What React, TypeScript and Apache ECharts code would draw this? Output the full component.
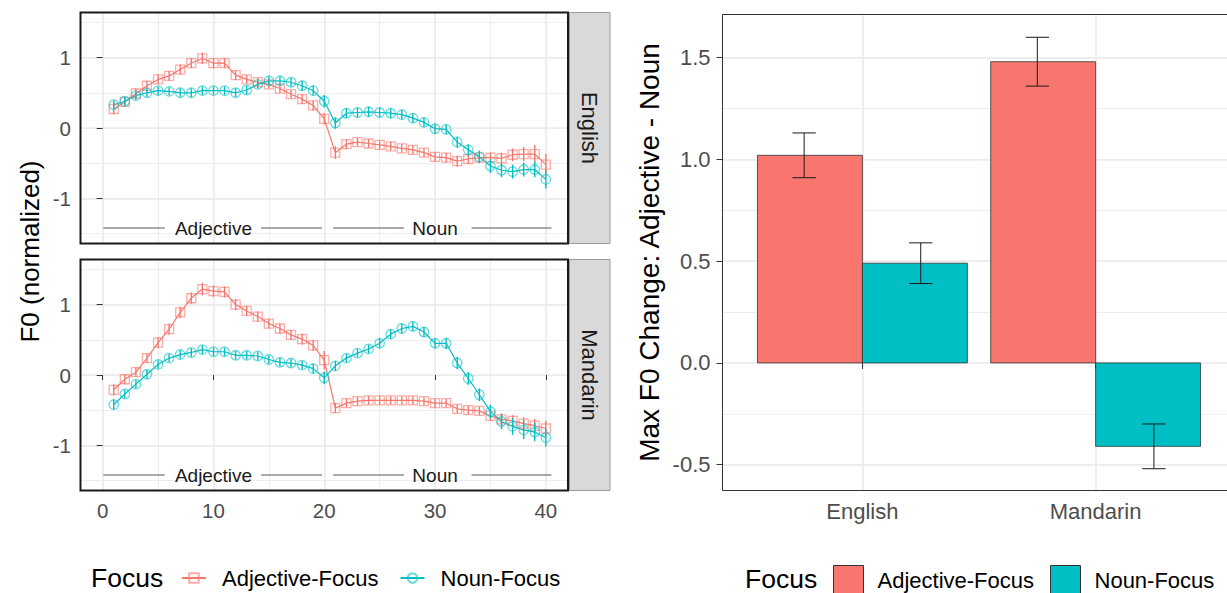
import React, { useEffect, useRef } from 'react';
import * as echarts from 'echarts';

// ---------------- data ----------------
const timePoints = [1, 2, 3, 4, 5, 6, 7, 8, 9, 10, 11, 12, 13, 14, 15, 16, 17, 18, 19, 20,
  21, 22, 23, 24, 25, 26, 27, 28, 29, 30, 31, 32, 33, 34, 35, 36, 37, 38, 39, 40];

const englishAdj = [0.27, 0.37, 0.49, 0.60, 0.69, 0.74, 0.83, 0.92, 0.99, 0.92, 0.92, 0.75, 0.69, 0.65, 0.62, 0.56, 0.48, 0.41, 0.32, 0.13,
  -0.35, -0.23, -0.20, -0.22, -0.24, -0.26, -0.29, -0.31, -0.35, -0.41, -0.42, -0.47, -0.44, -0.42, -0.42, -0.43, -0.38, -0.37, -0.37, -0.52];
const englishAdjSe = [0.08, 0.07, 0.07, 0.07, 0.07, 0.07, 0.07, 0.07, 0.08, 0.07, 0.07, 0.07, 0.06, 0.06, 0.06, 0.06, 0.06, 0.07, 0.07, 0.08,
  0.09, 0.07, 0.06, 0.06, 0.06, 0.06, 0.06, 0.06, 0.06, 0.07, 0.07, 0.08, 0.07, 0.07, 0.07, 0.08, 0.09, 0.10, 0.13, 0.15];
const englishNoun = [0.33, 0.38, 0.46, 0.50, 0.53, 0.52, 0.50, 0.50, 0.53, 0.53, 0.53, 0.50, 0.54, 0.62, 0.67, 0.67, 0.65, 0.60, 0.53, 0.38,
  0.07, 0.21, 0.22, 0.23, 0.22, 0.21, 0.19, 0.14, 0.08, -0.01, -0.02, -0.20, -0.31, -0.41, -0.54, -0.60, -0.62, -0.59, -0.59, -0.73];
const englishNounSe = [0.06, 0.06, 0.06, 0.06, 0.06, 0.06, 0.06, 0.06, 0.06, 0.06, 0.06, 0.06, 0.06, 0.06, 0.06, 0.06, 0.06, 0.07, 0.07, 0.09,
  0.08, 0.07, 0.07, 0.07, 0.07, 0.07, 0.07, 0.07, 0.07, 0.07, 0.07, 0.08, 0.08, 0.09, 0.10, 0.10, 0.10, 0.10, 0.11, 0.13];
const mandarinAdj = [-0.21, -0.06, 0.04, 0.24, 0.46, 0.65, 0.89, 1.09, 1.22, 1.19, 1.18, 1.00, 0.91, 0.83, 0.73, 0.66, 0.57, 0.51, 0.42, 0.21,
  -0.47, -0.40, -0.37, -0.36, -0.36, -0.36, -0.36, -0.36, -0.37, -0.40, -0.40, -0.48, -0.50, -0.51, -0.58, -0.63, -0.65, -0.69, -0.72, -0.76];
const mandarinAdjSe = [0.08, 0.07, 0.07, 0.07, 0.08, 0.08, 0.08, 0.08, 0.09, 0.08, 0.08, 0.08, 0.07, 0.07, 0.07, 0.07, 0.07, 0.08, 0.08, 0.13,
  0.07, 0.06, 0.06, 0.06, 0.06, 0.06, 0.06, 0.06, 0.06, 0.06, 0.06, 0.06, 0.06, 0.06, 0.07, 0.08, 0.08, 0.09, 0.10, 0.11];
const mandarinNoun = [-0.42, -0.27, -0.13, 0.01, 0.15, 0.24, 0.29, 0.32, 0.36, 0.33, 0.33, 0.28, 0.28, 0.27, 0.22, 0.18, 0.17, 0.14, 0.09, -0.04,
  0.13, 0.24, 0.31, 0.37, 0.45, 0.58, 0.66, 0.69, 0.61, 0.45, 0.45, 0.17, -0.05, -0.28, -0.52, -0.66, -0.73, -0.78, -0.81, -0.89];
const mandarinNounSe = [0.07, 0.06, 0.06, 0.06, 0.06, 0.06, 0.06, 0.06, 0.06, 0.06, 0.06, 0.06, 0.06, 0.06, 0.06, 0.06, 0.06, 0.06, 0.07, 0.09,
  0.07, 0.06, 0.06, 0.06, 0.07, 0.07, 0.07, 0.07, 0.07, 0.07, 0.08, 0.09, 0.09, 0.09, 0.10, 0.11, 0.12, 0.13, 0.13, 0.13];

const focusNames = ['Adjective-Focus', 'Noun-Focus'];
const languages = ['English', 'Mandarin'];
const lineXTicks = [0, 10, 20, 30, 40];
const lineYTicks = [-1, 0, 1];

const annotationY = -1.42;
const annotationSegments = [[0.06, 5.6], [14.3, 19.8], [20.8, 27.2], [33.3, 40.5]];
const annotationLabels = ['Adjective', 'Noun'];
const annotationLabelX = [10, 30];

const barAdj = [1.02, 1.48];
const barAdjLow = [0.91, 1.36];
const barAdjHigh = [1.13, 1.6];
const barNoun = [0.49, -0.41];
const barNounLow = [0.39, -0.52];
const barNounHigh = [0.59, -0.3];
const barYTicks = [-0.5, 0, 0.5, 1, 1.5];

// ---------------- style ----------------
const FONT = '"Liberation Sans", Arial, Helvetica, sans-serif';
const RED = '#F8766D';
const TEAL = '#00BFC4';
const RED_PT = 'rgba(248,118,109,0.6)';
const TEAL_PT = 'rgba(0,191,196,0.6)';
const GRID_COLOR = '#EBEBEB';

const PANEL_LEFT = 80.5;
const PANEL_W = 487.5;
const PANEL_H = 231;
const PANEL_TOPS = [12.5, 259.5];
const BAR_LEFT = 722.5;
const BAR_TOP = 14.5;
const BAR_UNIT = 233.2; // pixels per category step
const BAR_W = 1227 - BAR_LEFT; // plot runs past the right edge of the picture
const BAR_H = 476;
const BAR_X_MIN = 0.4;
const BAR_X_MAX = BAR_X_MIN + BAR_W / BAR_UNIT;

function buildOption() {
  const panels = [
    { name: languages[0], adj: englishAdj, adjSe: englishAdjSe, noun: englishNoun, nounSe: englishNounSe },
    { name: languages[1], adj: mandarinAdj, adjSe: mandarinAdjSe, noun: mandarinNoun, nounSe: mandarinNounSe },
  ];

  const grids: any[] = PANEL_TOPS.map((t) => ({ left: PANEL_LEFT, top: t, width: PANEL_W, height: PANEL_H }));
  grids.push({ left: BAR_LEFT, top: BAR_TOP, width: BAR_W, height: BAR_H });

  const xAxes: any[] = [];
  const yAxes: any[] = [];
  const tickStyle = { color: '#333333', width: 1 };

  panels.forEach((p, i) => {
    const showX = i === 1;
    xAxes.push({
      type: 'value', gridIndex: i, min: -2, max: 42, minInterval: 10, maxInterval: 10,
      axisLine: { show: false },
      axisTick: { show: showX, customValues: lineXTicks, length: 5, lineStyle: tickStyle },
      axisLabel: {
        show: showX, customValues: lineXTicks, fontSize: 20.5, color: '#4D4D4D', fontFamily: FONT, margin: 9,
        formatter: (v: number) => (Number.isInteger(v) && v % 10 === 0 ? String(v) : ''),
      },
      splitLine: { show: true, lineStyle: { color: GRID_COLOR, width: 1.6 } },
    });
    xAxes.push({
      type: 'value', gridIndex: i, min: -2, max: 42, minInterval: 5, maxInterval: 5, splitNumber: 9,
      axisLine: { show: false }, axisTick: { show: false }, axisLabel: { show: false },
      splitLine: { show: true, lineStyle: { color: GRID_COLOR, width: 0.9 } },
    });
    yAxes.push({
      type: 'value', gridIndex: i, min: -1.64, max: 1.64, minInterval: 1, maxInterval: 1,
      axisLine: { show: false },
      axisTick: { show: true, customValues: lineYTicks, length: 6, lineStyle: tickStyle },
      axisLabel: {
        customValues: lineYTicks, fontSize: 20.5, color: '#4D4D4D', fontFamily: FONT, margin: 9.5,
        formatter: (v: number) => (Number.isInteger(v) ? String(v) : ''),
      },
      splitLine: { show: true, lineStyle: { color: GRID_COLOR, width: 1.6 } },
    });
    yAxes.push({
      type: 'value', gridIndex: i, min: -1.64, max: 1.64, minInterval: 0.5, maxInterval: 0.5,
      axisLine: { show: false }, axisTick: { show: false }, axisLabel: { show: false },
      splitLine: { show: true, lineStyle: { color: GRID_COLOR, width: 0.9 } },
    });
  });

  // bar chart axes
  xAxes.push({
    type: 'value', gridIndex: 2, min: BAR_X_MIN, max: BAR_X_MAX, minInterval: 1, maxInterval: 1,
    axisLine: { show: false },
    axisTick: { show: true, customValues: [1, 2], length: 6, lineStyle: tickStyle },
    axisLabel: {
      customValues: [1, 2], fontSize: 22, color: '#4D4D4D', fontFamily: FONT, margin: 10,
      formatter: (v: number) => (Number.isInteger(v) && languages[v - 1] ? languages[v - 1] : ''),
    },
    splitLine: { show: true, lineStyle: { color: GRID_COLOR, width: 1.6 } },
  });
  yAxes.push({
    type: 'value', gridIndex: 2, min: -0.627, max: 1.712, minInterval: 0.5, maxInterval: 0.5,
    axisLine: { show: false },
    axisTick: { show: true, customValues: barYTicks, length: 6, lineStyle: tickStyle },
    axisLabel: {
      customValues: barYTicks, fontSize: 22, color: '#4D4D4D', fontFamily: FONT, margin: 12,
      formatter: (v: number) => (Math.abs(v * 2 - Math.round(v * 2)) < 1e-6 ? v.toFixed(1) : ''),
    },
    splitLine: { show: true, lineStyle: { color: GRID_COLOR, width: 1.6 } },
  });
  yAxes.push({
    type: 'value', gridIndex: 2, min: -0.627, max: 1.712, minInterval: 0.25, maxInterval: 0.25,
    axisLine: { show: false }, axisTick: { show: false }, axisLabel: { show: false },
    splitLine: { show: true, lineStyle: { color: GRID_COLOR, width: 0.9 } },
  });

  const series: any[] = [];
  const errRender = (color: string) => (params: any, api: any) => {
    const x = api.value(0);
    const p1 = api.coord([x, api.value(1)]);
    const p2 = api.coord([x, api.value(2)]);
    return { type: 'line', shape: { x1: p1[0], y1: p1[1], x2: p2[0], y2: p2[1] }, style: { stroke: color, lineWidth: 1.4 } };
  };

  panels.forEach((p, i) => {
    const xi = 2 * i;
    const yi = 2 * i;
    const groups = [
      { name: focusNames[0], mean: p.adj, se: p.adjSe, color: RED, pt: RED_PT, symbol: 'rect', size: 9 },
      { name: focusNames[1], mean: p.noun, se: p.nounSe, color: TEAL, pt: TEAL_PT, symbol: 'circle', size: 9.5 },
    ];
    groups.forEach((g) => {
      series.push({
        type: 'line', name: g.name, xAxisIndex: xi, yAxisIndex: yi,
        data: timePoints.map((t, k) => [t, g.mean[k]]),
        symbol: g.symbol, symbolSize: g.size, showSymbol: true,
        lineStyle: { color: g.color, width: 1.2 },
        itemStyle: { color: 'rgba(0,0,0,0)', borderColor: g.pt, borderWidth: 1.3 },
        emphasis: { disabled: true }, silent: true, z: 3,
      });
      series.push({
        type: 'custom', name: g.name, xAxisIndex: xi, yAxisIndex: yi,
        data: timePoints.map((t, k) => [t, g.mean[k] - g.se[k], g.mean[k] + g.se[k]]),
        renderItem: errRender(g.color), silent: true, z: 4,
      });
    });
    // annotation segments
    series.push({
      type: 'custom', xAxisIndex: xi, yAxisIndex: yi, silent: true, z: 5,
      data: annotationSegments.map((s) => [s[0], annotationY, s[1]]),
      renderItem: (params: any, api: any) => {
        const a = api.coord([api.value(0), api.value(1)]);
        const b = api.coord([api.value(2), api.value(1)]);
        return { type: 'line', shape: { x1: a[0], y1: a[1], x2: b[0], y2: b[1] }, style: { stroke: '#555555', lineWidth: 1 } };
      },
    });
    series.push({
      type: 'custom', xAxisIndex: xi, yAxisIndex: yi, silent: true, z: 5,
      data: annotationLabelX.map((x) => [x, annotationY]),
      renderItem: (params: any, api: any) => {
        const c = api.coord([api.value(0), api.value(1)]);
        return {
          type: 'text', x: c[0], y: c[1],
          style: { text: annotationLabels[params.dataIndex], fill: '#1A1A1A', fontSize: 19, fontFamily: FONT, align: 'center', verticalAlign: 'middle' },
        };
      },
    });
  });

  // bars
  const barGroups = [
    { name: focusNames[0], vals: barAdj, lo: barAdjLow, hi: barAdjHigh, color: RED, offset: -0.225, errOffset: -0.25 },
    { name: focusNames[1], vals: barNoun, lo: barNounLow, hi: barNounHigh, color: TEAL, offset: 0.225, errOffset: 0.25 },
  ];
  barGroups.forEach((g) => {
    series.push({
      type: 'custom', name: g.name, xAxisIndex: 4, yAxisIndex: 4, silent: true, z: 3,
      data: g.vals.map((v, k) => [k + 1, v]),
      renderItem: (params: any, api: any) => {
        const c = api.value(0);
        const v = api.value(1);
        const p0 = api.coord([c + g.offset - 0.225, 0]);
        const p1 = api.coord([c + g.offset + 0.225, v]);
        const x = Math.min(p0[0], p1[0]);
        const y = Math.min(p0[1], p1[1]);
        return {
          type: 'rect', shape: { x, y, width: Math.abs(p1[0] - p0[0]), height: Math.abs(p1[1] - p0[1]) },
          style: { fill: g.color, stroke: '#333333', lineWidth: 0.8 },
        };
      },
    });
  });
  barGroups.forEach((g) => {
    series.push({
      type: 'custom', name: g.name, xAxisIndex: 4, yAxisIndex: 4, silent: true, z: 4,
      data: g.vals.map((v, k) => [k + 1, g.lo[k], g.hi[k]]),
      renderItem: (params: any, api: any) => {
        const c = api.value(0) + g.errOffset;
        const lo = api.coord([c, api.value(1)]);
        const hi = api.coord([c, api.value(2)]);
        const l = api.coord([c - 0.05, 0])[0];
        const r = api.coord([c + 0.05, 0])[0];
        const st = { stroke: '#1A1A1A', lineWidth: 1 };
        return {
          type: 'group',
          children: [
            { type: 'line', shape: { x1: lo[0], y1: lo[1], x2: hi[0], y2: hi[1] }, style: st },
            { type: 'line', shape: { x1: l, y1: lo[1], x2: r, y2: lo[1] }, style: st },
            { type: 'line', shape: { x1: l, y1: hi[1], x2: r, y2: hi[1] }, style: st },
          ],
        };
      },
    });
  });

  const graphics: any[] = [];
  PANEL_TOPS.forEach((t, i) => {
    graphics.push({
      type: 'rect', z: 50, silent: true,
      shape: { x: PANEL_LEFT, y: t, width: PANEL_W, height: PANEL_H },
      style: { fill: 'none', stroke: '#1A1A1A', lineWidth: 2 },
    });
    graphics.push({
      type: 'rect', z: 49, silent: true,
      shape: { x: PANEL_LEFT + PANEL_W + 1.5, y: t, width: 40.5, height: PANEL_H },
      style: { fill: '#D9D9D9', stroke: '#9A9A9A', lineWidth: 1 },
    });
    graphics.push({
      type: 'text', z: 51, silent: true,
      x: PANEL_LEFT + PANEL_W + 21.5, y: t + PANEL_H / 2, rotation: -Math.PI / 2,
      style: { text: languages[i], fill: '#1A1A1A', fontSize: 22, fontFamily: FONT, align: 'center', verticalAlign: 'middle' },
    });
  });
  graphics.push({
    type: 'rect', z: 50, silent: true,
    shape: { x: BAR_LEFT, y: BAR_TOP, width: BAR_W + 20, height: BAR_H },
    style: { fill: 'none', stroke: '#333333', lineWidth: 1 },
  });
  graphics.push({
    type: 'text', silent: true, x: 30, y: 251.5, rotation: Math.PI / 2,
    style: { text: 'F0 (normalized)', fill: '#000000', fontSize: 26, fontFamily: FONT, align: 'center', verticalAlign: 'middle' },
  });
  graphics.push({
    type: 'text', silent: true, x: 649, y: 252.5, rotation: Math.PI / 2,
    style: { text: 'Max F0 Change: Adjective - Noun', fill: '#000000', fontSize: 28, fontFamily: FONT, align: 'center', verticalAlign: 'middle' },
  });
  graphics.push({
    type: 'text', silent: true, x: 91, y: 578,
    style: { text: 'Focus', fill: '#000000', fontSize: 26.5, lineHeight: 24, fontFamily: FONT, align: 'left', verticalAlign: 'middle' },
  });
  graphics.push({
    type: 'text', silent: true, x: 745, y: 578.5,
    style: { text: 'Focus', fill: '#000000', fontSize: 26.5, lineHeight: 24, fontFamily: FONT, align: 'left', verticalAlign: 'middle' },
  });

  return {
    animation: false,
    textStyle: { fontFamily: FONT },
    grid: grids,
    xAxis: xAxes,
    yAxis: yAxes,
    series,
    graphic: graphics,
    legend: [
      {
        left: 181, top: 567, padding: 0, itemWidth: 24, itemHeight: 12, itemGap: 21, selectedMode: false,
        textStyle: { fontSize: 22, color: '#000000', fontFamily: FONT, padding: [0, 0, 0, 11] },
        data: focusNames.map((n) => ({ name: n })),
      },
      {
        left: 833, top: 565, padding: 0, itemWidth: 30, itemHeight: 30, itemGap: 16, selectedMode: false,
        textStyle: { fontSize: 22, lineHeight: 22, color: '#000000', fontFamily: FONT, padding: [0, 0, 0, 9] },
        data: [
          { name: focusNames[0], icon: 'rect', itemStyle: { color: RED, borderColor: '#333333', borderWidth: 1 } },
          { name: focusNames[1], icon: 'rect', itemStyle: { color: TEAL, borderColor: '#333333', borderWidth: 1 } },
        ],
      },
    ],
  };
}

export default function App() {
  const ref = useRef<HTMLDivElement>(null);
  useEffect(() => {
    if (!ref.current) return;
    const chart = echarts.init(ref.current, null, { renderer: 'svg' });
    chart.setOption(buildOption() as any);
    return () => chart.dispose();
  }, []);
  return (
    <div
      ref={ref}
      style={{ position: 'fixed', left: 0, top: 0, width: 1227, height: 593, background: '#ffffff' }}
    />
  );
}
